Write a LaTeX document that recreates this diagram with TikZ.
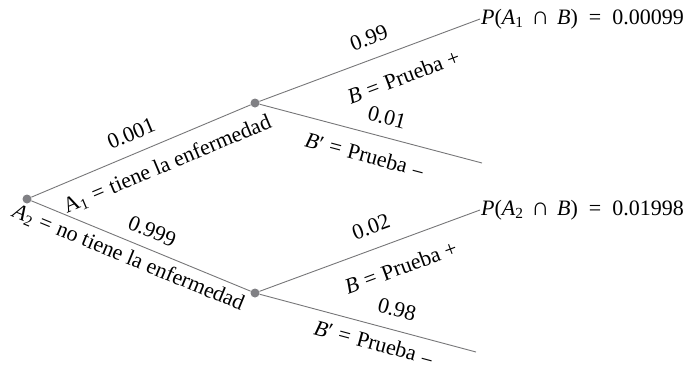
\documentclass[tikz,border=0pt]{standalone}
\usepackage{fontspec}
\setmainfont{Liberation Serif}
\usetikzlibrary{positioning}
\definecolor{BranchGray}{RGB}{118,118,120}
\definecolor{DotGray}{RGB}{128,128,132}
\newcommand{\igual}{\hspace{0.3em}=\hspace{0.3em}}
\newcommand{\igualres}{\hspace{0.5em}=\hspace{0.5em}}
\newcommand{\inter}{\hspace{0.35em}{\fontsize{25}{24}\selectfont ∩}\hspace{0.35em}}
\newcommand{\menos}{\raisebox{-0.3ex}{−}}

\begin{document}
\begin{tikzpicture}[x=1pt,y=-1pt,
	dot/.style={circle,fill=DotGray,inner sep=0pt,minimum size=9pt},
	branch/.style={BranchGray,line width=0.9pt},
	lbl/.style={sloped,text=black,font=\fontsize{22}{24}\selectfont,inner sep=0pt},
	res/.style={right,text=black,font=\fontsize{22}{24}\selectfont,inner sep=1pt}]
	\useasboundingbox (0,0) rectangle (697,372);
	% nodos del arbol
	\node[dot] (raiz) at (27,199) {};
	\node[dot] (enf) at (255,103) {};
	\node[dot] (noenf) at (255,293) {};
	\coordinate (enfpos) at (480,19);
	\coordinate (enfneg) at (482,163);
	\coordinate (noenfpos) at (480,210);
	\coordinate (noenfneg) at (476,352);
	% primera etapa
	\draw[branch] (raiz) -- (enf)
		node[lbl,pos=0.49,above=12pt] {0.001}
		node[lbl,pos=0.58,below=13pt] {A\textsubscript{1}\igual tiene la enfermedad};
	\draw[branch] (raiz) -- (noenf)
		node[lbl,pos=0.52,above=10pt] {0.999}
		node[lbl,pos=0.47,below=6pt] {\textit{A}\textsubscript{2}\igual no tiene la enfermedad};
	% segunda etapa
	\draw[branch] (enf) -- (enfpos)
		node[lbl,pos=0.53,above=13pt] {0.99}
		node[lbl,pos=0.61,below=19pt] {\textit{B}\igual Prueba +};
	\draw[branch] (enf) -- (enfneg)
		node[lbl,pos=0.55,above=12pt] {0.01}
		node[lbl,pos=0.5,below=14pt] {\textit{B}′\igual Prueba \menos};
	\draw[branch] (noenf) -- (noenfpos)
		node[lbl,pos=0.54,above=14pt] {0.02}
		node[lbl,pos=0.6,below=18pt] {\textit{B}\igual Prueba +};
	\draw[branch] (noenf) -- (noenfneg)
		node[lbl,pos=0.61,above=13pt] {0.98}
		node[lbl,pos=0.55,below=9pt] {\textit{B}′\igual Prueba \menos};
	% resultados
	\node[res] (p1) at (enfpos) {\textit{P}(\textit{A}\textsubscript{1}\inter\textit{B})\igualres 0.00099};
	\node[res] (p2) at (noenfpos) {\textit{P}(\textit{A}\textsubscript{2}\inter\textit{B})\igualres 0.01998};
\end{tikzpicture}
\end{document}
